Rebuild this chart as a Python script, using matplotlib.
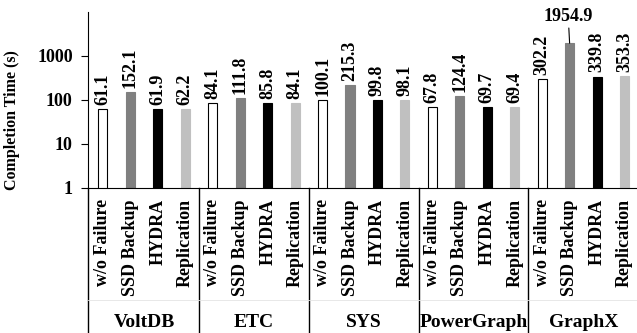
import numpy as np
import matplotlib
matplotlib.use('Agg')
import matplotlib.pyplot as plt
import matplotlib.transforms as transforms

plt.rcParams['font.family'] = 'Liberation Serif'
plt.rcParams['font.weight'] = 'bold'

groups = ['VoltDB', 'ETC', 'SYS', 'PowerGraph', 'GraphX']
schemes = ['w/o Failure', 'SSD Backup', 'HYDRA', 'Replication']
wo_failure = [61.1, 84.1, 100.1, 67.8, 302.2]
ssd_backup = [152.1, 111.8, 215.3, 124.4, 1954.9]
hydra = [61.9, 85.8, 99.8, 69.7, 339.8]
replication = [62.2, 84.1, 98.1, 69.4, 353.3]

colors = ['white', '#808080', 'black', '#c0c0c0']
series = [wo_failure, ssd_backup, hydra, replication]

fig = plt.figure(figsize=(6.37, 3.33), dpi=100)
ax = fig.add_axes([88/637, 145/333, 549/637, 176/333])

fs = 13
n = len(schemes)
xticks, xlabels = [], []
for g in range(len(groups)):
    for s in range(n):
        x = g*n + s
        v = series[s][g]
        ax.bar(x, v, width=0.33, color=colors[s], edgecolor='black' if s == 0 else colors[s],
               linewidth=0.8)
        xticks.append(x)
        xlabels.append(schemes[s])
        if v > 1000:
            ax.annotate('%.1f' % v, xy=(x, v), xytext=(x - 0.05, 5000), ha='center', va='bottom',
                        fontsize=fs, fontweight='bold',
                        arrowprops=dict(arrowstyle='-', color='black', lw=0.8, shrinkA=0, shrinkB=0))
        else:
            ax.annotate('%.1f' % v, xy=(x, v), xytext=(0, 3), textcoords='offset points',
                        ha='center', va='bottom', rotation=90, fontsize=fs, fontweight='bold')

ax.set_yscale('log')
ax.set_ylim(1, 10000)
ax.set_xlim(-0.545, len(groups)*n - 0.545)
ax.set_yticks([1, 10, 100, 1000])
ax.set_yticklabels(['1', '10', '100', '1000'], fontsize=fs, fontweight='bold')
ax.minorticks_off()
ax.set_xticks(xticks)
ax.set_xticklabels(xlabels, rotation=90, fontsize=fs, fontweight='bold', va='top')
ax.tick_params(axis='x', length=0, pad=8)
ax.tick_params(axis='y', direction='out', length=5, pad=6)
ax.spines['top'].set_visible(False)
ax.spines['right'].set_visible(False)
fig.text(12/637, 1 - 120/333, 'Completion Time (s)', rotation=90, ha='center', va='center',
         fontsize=11.5, fontweight='bold')

trans = transforms.blended_transform_factory(ax.transData, ax.transAxes)
bottom = -145/176
for g in range(len(groups) + 1):
    xb = g*n - 0.5 if g > 0 else -0.545
    ax.plot([xb, xb], [0, bottom], color='black', lw=1, transform=trans, clip_on=False)
for g, name in enumerate(groups):
    ax.text(g*n + 1.5, -0.765, name, transform=trans, ha='center', va='center',
            fontsize=14, fontweight='bold')
ax.plot([-0.545, len(groups)*n - 0.545], [-112/176, -112/176], color='#e4e4e4', lw=0.6,
        transform=trans, clip_on=False)

fig.savefig('out.png', dpi=100)
